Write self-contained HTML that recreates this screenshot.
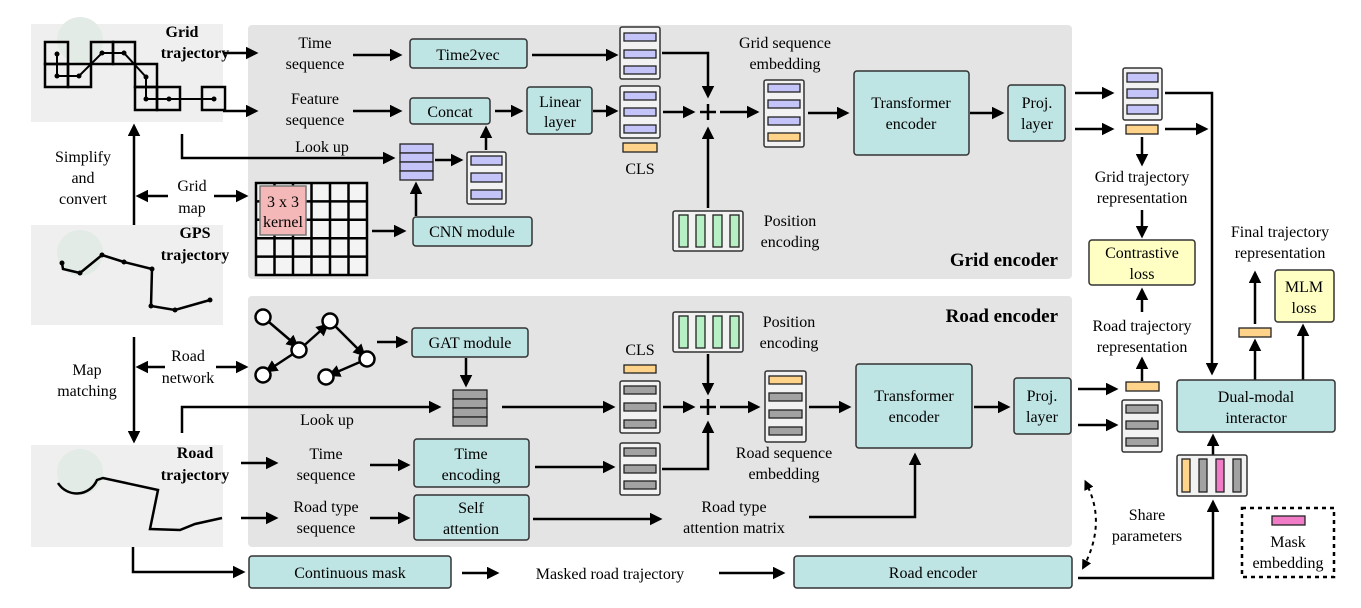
<!DOCTYPE html>
<html><head><meta charset="utf-8"><style>
html,body{margin:0;padding:0;background:#fff;}
svg{display:block;font-family:'Liberation Serif',serif;}
svg text{font-family:'Liberation Serif',serif;font-size:16px;fill:#000;}
.b{font-weight:bold;}
.ln{stroke:#000;stroke-width:2.5;fill:none;}
.ar{stroke:#000;stroke-width:2.5;fill:none;marker-end:url(#ah);}
.box{fill:#bfe4e4;stroke:#333;stroke-width:1.5;}
.yb{fill:#ffffc4;stroke:#333;stroke-width:1.5;}
.st{fill:#f2f2f2;stroke:#333;stroke-width:1.5;}
.pu{fill:#c4c4f8;stroke:#222;stroke-width:1.3;}
.gr{fill:#a2a2a2;stroke:#222;stroke-width:1.3;}
.or{fill:#ffd38a;stroke:#222;stroke-width:1.3;}
.gn{fill:#b6f0c4;stroke:#222;stroke-width:1.3;}
.pk{fill:#f07cc8;stroke:#222;stroke-width:1.3;}
</style></head><body>
<svg width="1361" height="608" viewBox="0 0 1361 608" xmlns="http://www.w3.org/2000/svg" font-family="Liberation Serif, serif">
<defs>
<marker id="ah" markerWidth="5" markerHeight="5" refX="4" refY="2.5" orient="auto" markerUnits="strokeWidth"><path d="M0,0 L5,2.5 L0,5 z" fill="#000"/></marker>
<marker id="ahs" markerWidth="5" markerHeight="5" refX="1" refY="2.5" orient="auto-start-reverse" markerUnits="strokeWidth"><path d="M0,0 L5,2.5 L0,5 z" fill="#000"/></marker>
</defs>

<rect x="248" y="25" width="824" height="254" rx="4" fill="#e4e4e4"/>
<rect x="248" y="296" width="824" height="251" rx="4" fill="#e4e4e4"/>

<rect x="31" y="24" width="192" height="98" fill="#efefef"/>
<circle cx="80" cy="40" r="23" fill="#e2ebe5"/>
<rect x="31" y="225" width="192" height="100" fill="#efefef"/>
<circle cx="80" cy="253" r="23" fill="#e2ebe5"/>
<rect x="31" y="445" width="192" height="102" fill="#efefef"/>
<circle cx="80" cy="472" r="23" fill="#e2ebe5"/>

<g class="ln">
<rect x="45" y="42" width="23" height="22"/><rect x="45" y="64" width="23" height="23"/><rect x="68" y="64" width="23" height="23"/>
<rect x="91" y="42" width="22" height="22"/><rect x="113" y="42" width="22" height="22"/><rect x="135" y="64" width="22" height="23"/>
<rect x="135" y="87" width="22" height="23"/><rect x="157" y="87" width="23" height="23"/><rect x="202" y="87" width="23" height="23"/>
<polyline points="57,54 57,76 79,76 102,53 124,53 146,77 146,99 169,99 214,99" stroke-width="2"/>
</g>
<g fill="#000"><circle cx="57" cy="54" r="2.5"/><circle cx="57" cy="76" r="2.5"/><circle cx="79" cy="76" r="2.5"/><circle cx="102" cy="53" r="2.5"/><circle cx="124" cy="53" r="2.5"/><circle cx="146" cy="77" r="2.5"/><circle cx="146" cy="99" r="2.5"/><circle cx="169" cy="99" r="2.5"/><circle cx="214" cy="99" r="2.5"/></g>
<polyline class="ln" points="62,263 63,269 80,273 102,255 124,262 152,269 151,306 175,310 210,300"/>
<g fill="#000"><circle cx="62" cy="263" r="2.5"/><circle cx="80" cy="273" r="2.5"/><circle cx="102" cy="255" r="2.5"/><circle cx="124" cy="262" r="2.5"/><circle cx="152" cy="269" r="2.5"/><circle cx="151" cy="306" r="2.5"/><circle cx="175" cy="310" r="2.5"/><circle cx="210" cy="300" r="2.5"/></g>
<path class="ln" d="M58,483 A22,22 0 0 0 97,480 L103,478 L158,490 L150,529 L180,530 L195,524 L222,518"/>

<text x="182" y="37" text-anchor="middle" class="b">Grid</text>
<text x="195" y="58" text-anchor="middle" class="b">trajectory</text>
<text x="195" y="238" text-anchor="middle" class="b">GPS</text>
<text x="195" y="260" text-anchor="middle" class="b">trajectory</text>
<text x="195" y="458" text-anchor="middle" class="b">Road</text>
<text x="195" y="480" text-anchor="middle" class="b">trajectory</text>

<line class="ar" x1="134" y1="225" x2="134" y2="126"/>
<text x="83" y="162" text-anchor="middle">Simplify</text>
<text x="83" y="183" text-anchor="middle">and</text>
<text x="83" y="204" text-anchor="middle">convert</text>
<text x="192" y="191" text-anchor="middle">Grid</text>
<text x="192" y="213" text-anchor="middle">map</text>
<line class="ar" x1="168" y1="196" x2="138" y2="196"/>
<line class="ar" x1="214" y1="196" x2="246" y2="196"/>

<line class="ar" x1="134" y1="337" x2="134" y2="441"/>
<text x="87" y="375" text-anchor="middle">Map</text>
<text x="87" y="396" text-anchor="middle">matching</text>
<text x="188" y="361" text-anchor="middle">Road</text>
<text x="188" y="383" text-anchor="middle">network</text>
<line class="ar" x1="165" y1="367" x2="138" y2="367"/>
<line class="ar" x1="216" y1="367" x2="246" y2="367"/>

<line class="ar" x1="223" y1="53" x2="256" y2="53"/>
<text x="315" y="48" text-anchor="middle">Time</text>
<text x="315" y="69" text-anchor="middle">sequence</text>
<line class="ar" x1="353" y1="55" x2="400" y2="55"/>
<rect class="box" x="410" y="39" width="117" height="29" rx="3"/>
<text x="468" y="60" text-anchor="middle">Time2vec</text>
<line class="ar" x1="532" y1="55" x2="616" y2="55"/>

<line class="ar" x1="223" y1="111" x2="256" y2="111"/>
<text x="315" y="104" text-anchor="middle">Feature</text>
<text x="315" y="125" text-anchor="middle">sequence</text>
<line class="ar" x1="353" y1="111" x2="400" y2="111"/>
<rect class="box" x="410" y="98" width="80" height="26" rx="3"/>
<text x="450" y="117" text-anchor="middle">Concat</text>
<line class="ar" x1="495" y1="111" x2="521" y2="111"/>
<rect class="box" x="527" y="87" width="65" height="47" rx="3"/>
<text x="560" y="107" text-anchor="middle">Linear</text>
<text x="560" y="127" text-anchor="middle">layer</text>
<line class="ar" x1="593" y1="111" x2="616" y2="111"/>

<polyline class="ar" points="182,134 182,158 393,158"/>
<text x="322" y="152" text-anchor="middle">Look up</text>
<g><rect class="pu" x="400" y="144" width="33" height="9"/><rect class="pu" x="400" y="153" width="33" height="9"/><rect class="pu" x="400" y="162" width="33" height="9"/><rect class="pu" x="400" y="171" width="33" height="9"/></g>
<line class="ar" x1="435" y1="160" x2="461" y2="160"/>
<rect class="st" x="467" y="152" width="39" height="52" rx="2"/>
<rect class="pu" x="471" y="156" width="31" height="9"/><rect class="pu" x="471" y="173" width="31" height="9"/><rect class="pu" x="471" y="190" width="31" height="9"/>
<line class="ar" x1="486" y1="150" x2="486" y2="128"/>
<line class="ar" x1="416" y1="216" x2="416" y2="184"/>

<rect x="256" y="183" width="111" height="92" fill="#f4f4f4"/>
<g class="ln">
<rect x="256" y="183" width="111" height="92"/>
<line x1="274.5" y1="183" x2="274.5" y2="275"/><line x1="293" y1="183" x2="293" y2="275"/><line x1="311.5" y1="183" x2="311.5" y2="275"/><line x1="330" y1="183" x2="330" y2="275"/><line x1="348.5" y1="183" x2="348.5" y2="275"/>
<line x1="256" y1="201.4" x2="367" y2="201.4"/><line x1="256" y1="219.8" x2="367" y2="219.8"/><line x1="256" y1="238.2" x2="367" y2="238.2"/><line x1="256" y1="256.6" x2="367" y2="256.6"/>
</g>
<rect x="260" y="186" width="46" height="49" fill="#f4b8b8" stroke="#777" stroke-width="1.5"/>
<text x="283" y="207" text-anchor="middle">3 x 3</text>
<text x="283" y="227" text-anchor="middle">kernel</text>
<line class="ar" x1="372" y1="231" x2="404" y2="231"/>
<rect class="box" x="413" y="217" width="119" height="29" rx="3"/>
<text x="472" y="237" text-anchor="middle">CNN module</text>

<rect class="st" x="620" y="27" width="40" height="52" rx="2"/>
<rect class="pu" x="624" y="33" width="32" height="8"/><rect class="pu" x="624" y="50" width="32" height="8"/><rect class="pu" x="624" y="66" width="32" height="8"/>
<rect class="st" x="620" y="86" width="40" height="52" rx="2"/>
<rect class="pu" x="624" y="92" width="32" height="8"/><rect class="pu" x="624" y="108" width="32" height="8"/><rect class="pu" x="624" y="125" width="32" height="8"/>
<rect class="or" x="623" y="143" width="34" height="9"/>
<text x="640" y="174" text-anchor="middle">CLS</text>
<polyline class="ar" points="662,53 708,53 708,96"/>
<line class="ar" x1="663" y1="112" x2="693" y2="112"/>
<g class="ln"><line x1="700" y1="112" x2="716" y2="112"/><line x1="708" y1="104" x2="708" y2="120"/></g>
<line class="ar" x1="720" y1="112" x2="757" y2="112"/>
<line class="ar" x1="708" y1="208" x2="708" y2="129"/>
<rect class="st" x="673" y="211" width="70" height="40" rx="2"/>
<rect class="gn" x="679" y="215" width="9" height="32"/><rect class="gn" x="696" y="215" width="9" height="32"/><rect class="gn" x="713" y="215" width="9" height="32"/><rect class="gn" x="730" y="215" width="9" height="32"/>
<text x="790" y="226" text-anchor="middle">Position</text>
<text x="790" y="247" text-anchor="middle">encoding</text>
<text x="785" y="48" text-anchor="middle">Grid sequence</text>
<text x="785" y="69" text-anchor="middle">embedding</text>
<rect class="st" x="764" y="80" width="40" height="67" rx="2"/>
<rect class="pu" x="768" y="84" width="32" height="8"/><rect class="pu" x="768" y="100" width="32" height="8"/><rect class="pu" x="768" y="117" width="32" height="8"/><rect class="or" x="768" y="133" width="32" height="8"/>
<line class="ar" x1="808" y1="113" x2="847" y2="113"/>
<rect class="box" x="854" y="71" width="115" height="84" rx="3"/>
<text x="911" y="108" text-anchor="middle">Transformer</text>
<text x="911" y="129" text-anchor="middle">encoder</text>
<line class="ar" x1="970" y1="113" x2="1002" y2="113"/>
<rect class="box" x="1008" y="85" width="57" height="56" rx="3"/>
<text x="1037" y="108" text-anchor="middle">Proj.</text>
<text x="1037" y="129" text-anchor="middle">layer</text>
<text x="1058" y="266" text-anchor="end" class="b" style="font-size:19px">Grid  encoder</text>

<line class="ar" x1="1075" y1="93" x2="1112" y2="93"/>
<line class="ar" x1="1075" y1="129" x2="1112" y2="129"/>
<rect class="st" x="1123" y="68" width="39" height="52" rx="2"/>
<rect class="pu" x="1127" y="73" width="31" height="9"/><rect class="pu" x="1127" y="89" width="31" height="9"/><rect class="pu" x="1127" y="105" width="31" height="9"/>
<rect class="or" x="1126" y="125" width="32" height="9"/>
<polyline class="ar" points="1165,93 1212,93 1212,373"/>
<line class="ar" x1="1165" y1="129" x2="1206" y2="129"/>
<line class="ar" x1="1142" y1="137" x2="1142" y2="164"/>
<text x="1142" y="182" text-anchor="middle">Grid trajectory</text>
<text x="1142" y="203" text-anchor="middle">representation</text>
<line class="ar" x1="1142" y1="210" x2="1142" y2="236"/>
<rect class="yb" x="1089" y="240" width="106" height="45" rx="3"/>
<text x="1142" y="258" text-anchor="middle">Contrastive</text>
<text x="1142" y="279" text-anchor="middle">loss</text>
<line class="ar" x1="1142" y1="312" x2="1142" y2="290"/>
<text x="1142" y="331" text-anchor="middle">Road trajectory</text>
<text x="1142" y="352" text-anchor="middle">representation</text>
<line class="ar" x1="1142" y1="381" x2="1142" y2="359"/>
<text x="1280" y="237" text-anchor="middle">Final trajectory</text>
<text x="1280" y="258" text-anchor="middle">representation</text>
<rect class="yb" x="1275" y="270" width="59" height="52" rx="3"/>
<text x="1304" y="292" text-anchor="middle">MLM</text>
<text x="1304" y="313" text-anchor="middle">loss</text>
<rect class="or" x="1239" y="328" width="32" height="9"/>
<line class="ar" x1="1255" y1="324" x2="1255" y2="273"/>
<line class="ar" x1="1255" y1="380" x2="1255" y2="341"/>
<line class="ar" x1="1303" y1="380" x2="1303" y2="326"/>
<rect class="box" x="1177" y="380" width="158" height="52" rx="3"/>
<text x="1256" y="402" text-anchor="middle">Dual-modal</text>
<text x="1256" y="423" text-anchor="middle">interactor</text>
<line class="ar" x1="1213" y1="455" x2="1213" y2="436"/>
<rect class="st" x="1177" y="455" width="70" height="41" rx="2" fill="#fff"/>
<rect class="or" x="1182" y="459" width="8" height="33"/><rect class="gr" x="1199" y="459" width="8" height="33"/><rect class="pk" x="1216" y="459" width="8" height="33"/><rect class="gr" x="1233" y="459" width="8" height="33"/>
<rect x="1242" y="508" width="92" height="69" fill="none" stroke="#000" stroke-width="2.5" stroke-dasharray="4,4"/>
<rect class="pk" x="1272" y="516" width="33" height="9"/>
<text x="1288" y="547" text-anchor="middle">Mask</text>
<text x="1288" y="568" text-anchor="middle">embedding</text>
<text x="1147" y="520" text-anchor="middle">Share</text>
<text x="1147" y="541" text-anchor="middle">parameters</text>
<path d="M1088,487 Q1106,525 1083,568" fill="none" stroke="#000" stroke-width="2" stroke-dasharray="4,4" marker-start="url(#ahs)" marker-end="url(#ah)"/>

<text x="1058" y="322" text-anchor="end" class="b" style="font-size:19px">Road encoder</text>
<g class="ln" stroke-width="2">
<line x1="263" y1="317" x2="297" y2="346" marker-end="url(#ah)"/>
<line x1="299" y1="350" x2="327" y2="325" marker-end="url(#ah)"/>
<line x1="330" y1="321" x2="364" y2="355" marker-end="url(#ah)"/>
<line x1="299" y1="350" x2="267" y2="371" marker-end="url(#ah)"/>
<line x1="367" y1="359" x2="330" y2="375" marker-end="url(#ah)"/>
</g>
<g fill="#fff" stroke="#000" stroke-width="2.5">
<circle cx="263" cy="317" r="7.5"/><circle cx="299" cy="350" r="7.5"/><circle cx="330" cy="321" r="7.5"/><circle cx="367" cy="359" r="7.5"/><circle cx="263" cy="375" r="7.5"/><circle cx="326" cy="377" r="7.5"/>
</g>
<line class="ar" x1="377" y1="342" x2="406" y2="342"/>
<rect class="box" x="412" y="328" width="116" height="29" rx="3"/>
<text x="470" y="348" text-anchor="middle">GAT module</text>
<line class="ar" x1="466" y1="358" x2="466" y2="385"/>
<rect class="gr" x="453" y="390" width="34" height="9"/><rect class="gr" x="453" y="399" width="34" height="9"/><rect class="gr" x="453" y="408" width="34" height="9"/><rect class="gr" x="453" y="417" width="34" height="9"/>
<polyline class="ar" points="182,433 182,407 439,407"/>
<text x="327" y="425" text-anchor="middle">Look up</text>
<line class="ar" x1="502" y1="407" x2="613" y2="407"/>
<text x="640" y="355" text-anchor="middle">CLS</text>
<rect class="or" x="624" y="365" width="32" height="8"/>
<rect class="st" x="620" y="381" width="40" height="52" rx="2"/>
<rect class="gr" x="624" y="386" width="32" height="8"/><rect class="gr" x="624" y="403" width="32" height="8"/><rect class="gr" x="624" y="420" width="32" height="8"/>
<line class="ar" x1="663" y1="407" x2="693" y2="407"/>
<g class="ln"><line x1="700" y1="407" x2="716" y2="407"/><line x1="708" y1="399" x2="708" y2="415"/></g>
<rect class="st" x="673" y="312" width="70" height="40" rx="2"/>
<rect class="gn" x="679" y="316" width="9" height="32"/><rect class="gn" x="696" y="316" width="9" height="32"/><rect class="gn" x="713" y="316" width="9" height="32"/><rect class="gn" x="730" y="316" width="9" height="32"/>
<text x="789" y="327" text-anchor="middle">Position</text>
<text x="789" y="348" text-anchor="middle">encoding</text>
<line class="ar" x1="708" y1="354" x2="708" y2="393"/>
<line class="ar" x1="720" y1="407" x2="758" y2="407"/>
<rect class="st" x="765" y="371" width="41" height="71" rx="2"/>
<rect class="or" x="769" y="376" width="33" height="8"/><rect class="gr" x="769" y="393" width="33" height="8"/><rect class="gr" x="769" y="410" width="33" height="8"/><rect class="gr" x="769" y="427" width="33" height="8"/>
<text x="784" y="458" text-anchor="middle">Road sequence</text>
<text x="784" y="479" text-anchor="middle">embedding</text>
<line class="ar" x1="809" y1="407" x2="849" y2="407"/>
<rect class="box" x="856" y="364" width="116" height="84" rx="3"/>
<text x="914" y="401" text-anchor="middle">Transformer</text>
<text x="914" y="422" text-anchor="middle">encoder</text>
<line class="ar" x1="974" y1="407" x2="1008" y2="407"/>
<rect class="box" x="1014" y="378" width="57" height="56" rx="3"/>
<text x="1042" y="401" text-anchor="middle">Proj.</text>
<text x="1042" y="422" text-anchor="middle">layer</text>
<line class="ar" x1="1078" y1="389" x2="1116" y2="389"/>
<line class="ar" x1="1078" y1="425" x2="1116" y2="425"/>
<rect class="or" x="1126" y="382" width="33" height="9"/>
<rect class="st" x="1122" y="400" width="40" height="52" rx="2" fill="#fff"/>
<rect class="gr" x="1126" y="405" width="32" height="8"/><rect class="gr" x="1126" y="421" width="32" height="8"/><rect class="gr" x="1126" y="438" width="32" height="8"/>

<line class="ar" x1="241" y1="463" x2="276" y2="463"/>
<text x="326" y="459" text-anchor="middle">Time</text>
<text x="326" y="480" text-anchor="middle">sequence</text>
<line class="ar" x1="370" y1="465" x2="408" y2="465"/>
<rect class="box" x="414" y="439" width="115" height="48" rx="3"/>
<text x="471" y="459" text-anchor="middle">Time</text>
<text x="471" y="480" text-anchor="middle">encoding</text>
<line class="ar" x1="535" y1="467" x2="613" y2="467"/>
<rect class="st" x="620" y="443" width="40" height="52" rx="2"/>
<rect class="gr" x="624" y="448" width="32" height="8"/><rect class="gr" x="624" y="465" width="32" height="8"/><rect class="gr" x="624" y="481" width="32" height="8"/>
<polyline class="ar" points="662,469 708,469 708,423"/>

<line class="ar" x1="241" y1="518" x2="276" y2="518"/>
<text x="326" y="512" text-anchor="middle">Road type</text>
<text x="326" y="533" text-anchor="middle">sequence</text>
<line class="ar" x1="370" y1="518" x2="408" y2="518"/>
<rect class="box" x="414" y="495" width="115" height="45" rx="3"/>
<text x="471" y="513" text-anchor="middle">Self</text>
<text x="471" y="534" text-anchor="middle">attention</text>
<line class="ar" x1="533" y1="519" x2="660" y2="519"/>
<text x="734" y="512" text-anchor="middle">Road type</text>
<text x="734" y="533" text-anchor="middle">attention matrix</text>
<polyline class="ar" points="809,517 915,517 915,455"/>

<polyline class="ar" points="133,547 133,572 243,572"/>
<rect class="box" x="249" y="556" width="202" height="32" rx="3"/>
<text x="350" y="578" text-anchor="middle">Continuous mask</text>
<line class="ar" x1="462" y1="573" x2="497" y2="573"/>
<text x="610" y="579" text-anchor="middle">Masked road trajectory</text>
<line class="ar" x1="719" y1="573" x2="783" y2="573"/>
<rect class="box" x="794" y="556" width="278" height="32" rx="3"/>
<text x="933" y="578" text-anchor="middle">Road encoder</text>
<polyline class="ar" points="1078,578 1213,578 1213,502"/>
</svg>
</body></html>
